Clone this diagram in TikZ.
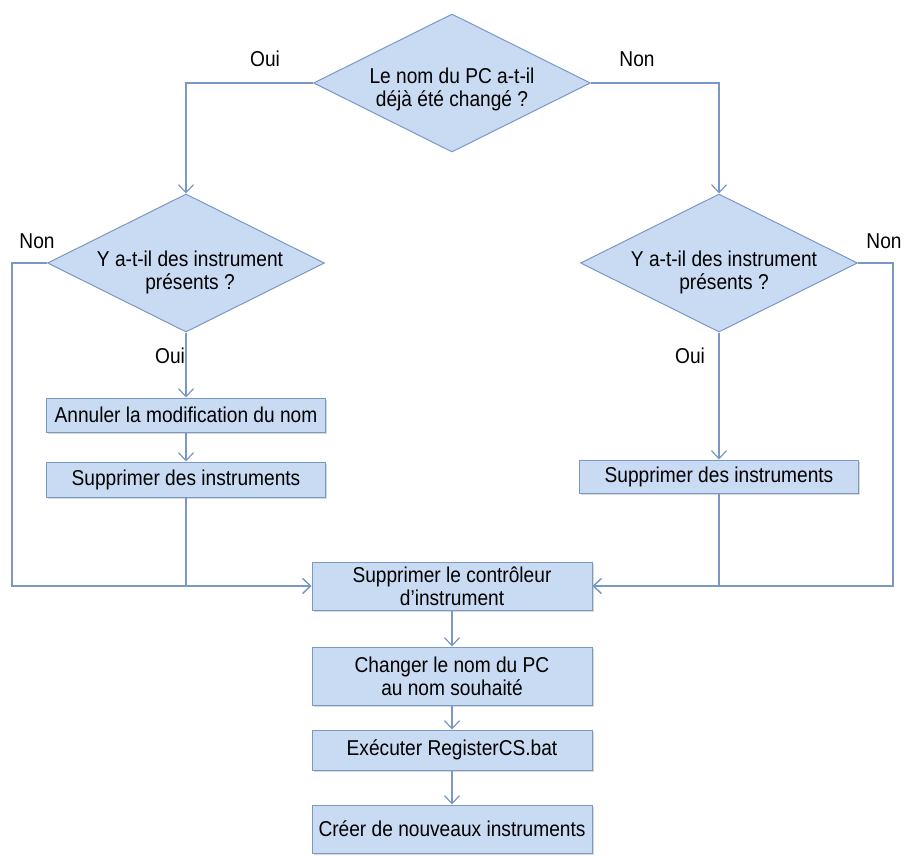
\documentclass[tikz,border=0pt]{standalone}
\usepackage{fontspec}
\setmainfont{Liberation Sans}[FakeStretch=0.89]
\usetikzlibrary{shapes.geometric,arrows.meta,shadows}
\definecolor{boxfill}{RGB}{201,218,243}
\definecolor{boxline}{RGB}{122,152,198}
\tikzset{
  base/.style={font=\fontsize{21.5}{23}\selectfont, text=black},
  dia/.style={shape=diamond, draw=boxline, fill=boxfill, line width=1pt, inner sep=0pt,
              minimum width=277pt, minimum height=138pt},
  dtext/.style={base, align=center, inner sep=0pt},
  stepbox/.style={base, shape=rectangle, draw=boxline, fill=boxfill, line width=1pt,
              minimum width=279pt, align=center, inner sep=2pt,
              drop shadow={shadow xshift=1.5pt, shadow yshift=-2pt, opacity=0.3, fill=gray}},
  conn/.style={draw=boxline, line width=1.3pt},
  arr/.style={conn, -{Straight Barb[length=8pt,width=15pt,line width=1.2pt]}},
  lbl/.style={base, inner sep=0pt},
}
\begin{document}
\begin{tikzpicture}[x=1pt,y=-1pt]
\path[use as bounding box] (0,0) rectangle (905,855);

\node[dia, label={[dtext, yshift=-6pt]center:Le nom du PC a-t-il\\déjà été changé ?}] (d1) at (452,83) {};
\node[dia, label={[dtext, yshift=-9pt, xshift=4pt]center:Y a-t-il des instrument\\présents ?}] (d2) at (186,263) {};
\node[dia, label={[dtext, yshift=-9pt, xshift=5pt]center:Y a-t-il des instrument\\présents ?}] (d3) at (719,263) {};

\node[stepbox, minimum height=34pt] (b1) at (186,415) {Annuler la modification du nom};
\node[stepbox, minimum height=35pt] (b2) at (186,479.5) {Supprimer des instruments};
\node[stepbox, minimum height=33pt] (r1) at (719,476.5) {Supprimer des instruments};

\node[stepbox, minimum width=280pt, minimum height=48pt] (c1) at (452,586) {Supprimer le contrôleur\\d’instrument};
\node[stepbox, minimum width=280pt, minimum height=58pt] (c2) at (452,676) {Changer le nom du PC\\au nom souhaité};
\node[stepbox, minimum width=280pt, minimum height=40pt] (c3) at (452,750) {Exécuter RegisterCS.bat};
\node[stepbox, minimum width=280pt, minimum height=48pt] (c4) at (452,829) {Créer de nouveaux instruments};

\coordinate (lc) at (12,263);
\coordinate (rc) at (893,263);

\draw[arr] (d1.west) -| (d2.north);
\draw[arr] (d1.east) -| (d3.north);
\draw[arr] (d2.south) -- (b1.north);
\draw[arr] (b1.south) -- (b2.north);
\draw[arr] (d3.south) -- (r1.north);
\draw[arr] (b2.south) |- (c1.west);
\draw[arr] (r1.south) |- (c1.east);
\draw[arr] (d2.west) -- (lc) |- (c1.west);
\draw[arr] (d3.east) -- (rc) |- (c1.east);
\draw[arr] (c1.south) -- (c2.north);
\draw[arr] (c2.south) -- (c3.north);
\draw[arr] (c3.south) -- (c4.north);

\node[lbl] (l1) at (265,59) {Oui};
\node[lbl] (l2) at (637,59) {Non};
\node[lbl] (l3) at (37,241) {Non};
\node[lbl] (l4) at (884,241) {Non};
\node[lbl] (l5) at (170,356) {Oui};
\node[lbl] (l6) at (690,356) {Oui};
\end{tikzpicture}
\end{document}
